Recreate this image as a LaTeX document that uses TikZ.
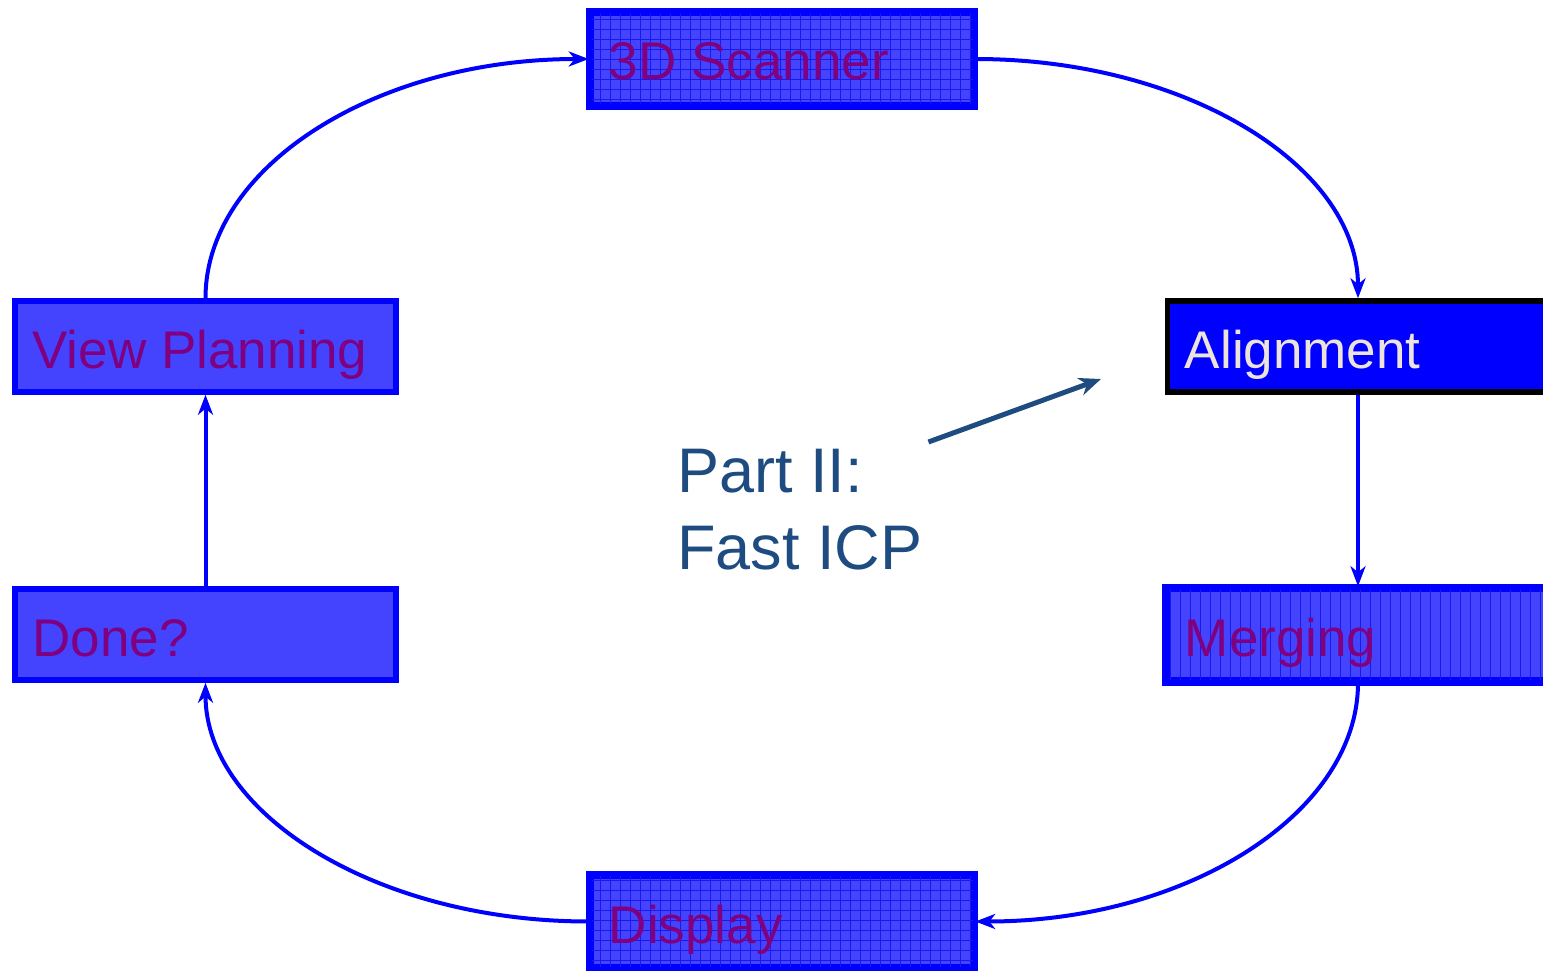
\documentclass[tikz,border=0pt]{standalone}
\usepackage{fontspec}
\setmainfont{Liberation Sans}
\usetikzlibrary{arrows.meta}

\definecolor{boxfill}{RGB}{68,68,255}
\definecolor{boxtext}{RGB}{128,0,128}
\definecolor{gridblue}{RGB}{25,25,235}
\definecolor{notecolor}{RGB}{31,76,128}
\definecolor{lighttext}{RGB}{236,228,220}

\tikzset{
  stage/.style={draw=blue, fill=boxfill, line width=5.5pt, rectangle,
    minimum width=381pt, minimum height=91pt, inner sep=0pt},
  active/.style={stage, draw=black, fill=blue},
  label/.style={anchor=base west, inner sep=0pt, text=boxtext,
    font=\fontsize{53}{64}\selectfont},
  flow/.style={draw=blue, line width=4pt,
    -{Stealth[length=20pt, width=15pt, inset=6pt]}},
  gridline/.style={draw=gridblue, line width=1pt},
  note/.style={align=left, text=notecolor, inner sep=0pt,
    font=\fontsize{63}{77}\selectfont},
}

\begin{document}
\begin{tikzpicture}[x=1pt, y=-1pt]
\useasboundingbox (0,0) rectangle (1543,971);

% process stages
\node[stage]  (scan)  at (782,59)      {};
\node[stage]  (plan)  at (205.5,346.5) {};
\node[active] (align) at (1358,346.5)  {};
\node[stage]  (merge) at (1358,634.5)  {};
\node[stage]  (done)  at (205.5,634.5) {};
\node[stage]  (disp)  at (782,921.5)   {};

% grid texture on the scanner and display boxes
\foreach \b in {scan,disp}{
  \begin{scope}
    \clip ([xshift=2.5pt,yshift=2.5pt]\b.south west) rectangle ([xshift=-2.5pt,yshift=-2.5pt]\b.north east);
    \draw[gridline, step=10pt] (\b.south west) grid (\b.north east);
  \end{scope}
}
% vertical stripes on the merging box
\begin{scope}
  \clip ([xshift=2.5pt,yshift=2.5pt]merge.south west) rectangle ([xshift=-2.5pt,yshift=-2.5pt]merge.north east);
  \foreach \x in {1170,1180,...,1550}
    \draw[gridline] (\x,580) -- (\x,690);
\end{scope}
% redraw borders above the textures
\foreach \b in {scan,disp,merge}
  \draw[draw=blue, line width=5.5pt] (\b.south west) rectangle (\b.north east);

% stage captions
\node[label] (scanT)  at ([xshift=20pt]scan.west |- 0,80)   {3D Scanner};
\node[label] (planT)  at ([xshift=20pt]plan.west |- 0,368)  {View Planning};
\node[label, text=lighttext] (alignT) at ([xshift=20pt]align.west |- 0,368) {Alignment};
\node[label] (mergeT) at ([xshift=20pt]merge.west |- 0,656) {Merging};
\node[label] (doneT)  at ([xshift=20pt]done.west |- 0,656)  {Done?};
\node[label] (dispT)  at ([xshift=20pt]disp.west |- 0,943)  {Display};

% cycle connectors
\draw[flow] (scan.east) .. controls +(211,0) and +(0,-132) .. (align.north);
\draw[flow] (align.south) -- (merge.north);
\draw[flow] (merge.south) .. controls +(0,131) and +(211,0) .. (disp.east);
\draw[flow] (disp.west) .. controls +(-212,0) and +(0,131) .. (done.south);
\draw[flow] (done.north) -- (plan.south);
\draw[flow] (plan.north) .. controls +(0,-132) and +(-212,0) .. (scan.west);

% annotation
\node[note, anchor=north west] (part) at (677,449) {Part II:\\Fast ICP};
\coordinate (pointer) at (1101,379);
\draw[draw=notecolor, line width=5pt, -{Stealth[length=22pt, width=18pt, inset=7pt]}]
  (part.north east) ++(6,-7) -- (pointer);
\end{tikzpicture}
\end{document}
